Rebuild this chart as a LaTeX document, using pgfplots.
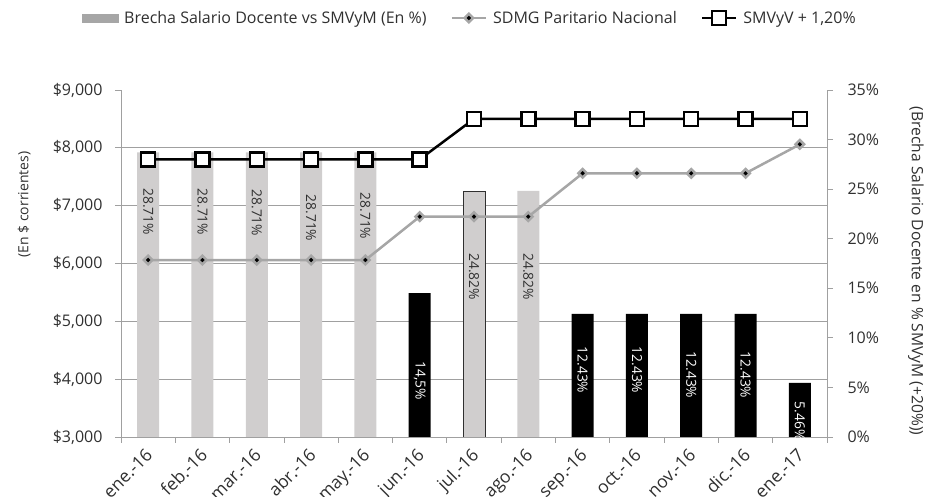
\documentclass[border=0pt]{standalone}
\usepackage{pgfplots}
\pgfplotsset{compat=1.18}
\usepackage{fontspec}
\setmainfont{Open Sans}

\definecolor{barg}{HTML}{D0CECE}
\definecolor{legg}{HTML}{A6A6A6}
\definecolor{lineg}{HTML}{A6A6A6}
\definecolor{gridg}{HTML}{A0A0A0}
\definecolor{txt}{HTML}{303030}

\pgfplotsset{
  base/.style={
    width=706pt, height=347pt, scale only axis,
    at={(121pt,60pt)}, anchor=south west,
    xmin=-0.5, xmax=12.5,
    tick align=outside, major tick length=6pt,
    tick style={gridg, line width=0.8pt},
    axis line style={gridg, line width=0.8pt, -},
    ticklabel style={font=\fontsize{16}{19}\selectfont, text=txt},
  },
  lbl/.style={draw=none, nodes near coords, point meta=explicit symbolic,
    nodes near coords style={anchor=center, rotate=-90, inner sep=0pt,
      font=\fontsize{13.8}{16}\selectfont, text=#1}},
}

\begin{document}
\begin{tikzpicture}
\path[use as bounding box] (0,0) rectangle (926pt,497pt);

% left axis: grid, x labels
\begin{axis}[base,
  ymin=3000, ymax=9000,
  axis x line*=bottom, axis y line*=left,
  xtick={-0.5,0.5,...,12.5}, x tick label as interval,
  xticklabels={ene.-16,feb.-16,mar.-16,abr.-16,may.-16,jun.-16,jul.-16,ago.-16,sep.-16,oct.-16,nov.-16,dic.-16,ene.-17},
  xticklabel style={xshift=-3.6pt, yshift=-4pt, rotate=45, anchor=north east, inner sep=0pt,
    font=\fontsize{17.5}{20}\selectfont},
  ytick={3000,4000,...,8000},
  yticklabels={\$3{,}000,\$4{,}000,\$5{,}000,\$6{,}000,\$7{,}000,\$8{,}000},
  yticklabel style={xshift=-9pt},
  extra y ticks={9000}, extra y tick labels={\$9{,}000},
  extra y tick style={grid=none},
  ymajorgrids, grid style={gridg, line width=0.8pt},
  every axis y label/.style={at={(axis description cs:-0.137,0.67)}, rotate=90, anchor=center,
    font=\fontsize{14}{17}\selectfont, text=txt},
  ylabel={(En \$ corrientes)},
]
\end{axis}

% right axis: bars
\begin{axis}[base,
  ymin=0, ymax=35,
  axis y line*=right, axis x line=none,
  ytick={0,5,...,35},
  yticklabels={0\%,5\%,10\%,15\%,20\%,25\%,30\%,35\%},
  yticklabel style={xshift=11pt},
  every axis y label/.style={at={(axis description cs:1.126,0.478)}, rotate=-90, anchor=center,
    font=\fontsize{15.6}{18}\selectfont, text=txt},
  ylabel={(Brecha Salario Docente en \% SMVyM (+20\%))},
]
\addplot[ybar, bar width=22pt, bar shift=0pt, fill=barg, draw=none]
  coordinates {(0,28.71) (1,28.71) (2,28.71) (3,28.71) (4,28.71) (7,24.82)};
\addplot[ybar, bar width=22pt, bar shift=0pt, fill=barg, draw=txt, line width=0.8pt]
  coordinates {(6,24.82)};
\addplot[ybar, bar width=22pt, bar shift=0pt, fill=black, draw=none]
  coordinates {(5,14.5) (8,12.43) (9,12.43) (10,12.43) (11,12.43) (12,5.46)};
\addplot[lbl=txt] coordinates {
  (0,22.73) [28.71\%] (1,22.70) [28.71\%] (2,22.60) [28.71\%]
  (3,22.09) [28.71\%] (4,22.29) [28.71\%]
  (6,16.17) [24.82\%] (7,16.17) [24.82\%]};
\addplot[lbl=white] coordinates {
  (5,5.65) [14,5\%] (8,6.76) [12.43\%] (9,6.76) [12.43\%]
  (10,6.25) [12.43\%] (11,6.25) [12.43\%] (12,1.6) [5.46\%]};
\end{axis}

% lines on the left scale
\begin{axis}[base,
  ymin=3000, ymax=9000, hide axis,
  legend style={at={(0.494,1.2075)}, anchor=center, draw=none, fill=none,
    font=\fontsize{16}{19}\selectfont, text=txt,
    legend columns=3, column sep=4pt,
    /tikz/every even column/.append style={column sep=22pt}},
  legend image code/.code={\draw[mark repeat=2,mark phase=2,#1]
    plot coordinates {(0pt,0pt) (17pt,0pt) (34pt,0pt)};},
]
\addlegendimage{legend image code/.code={\fill[legg] (0pt,-4pt) rectangle (36pt,4pt);}}
\addlegendentry{Brecha Salario Docente vs SMVyM (En \%)}
\addplot[lineg, line width=2.5pt, mark=square*, mark size=3pt,
  mark options={rotate=45, fill=black, draw=lineg, line width=2.5pt}]
  coordinates {(0,6060) (1,6060) (2,6060) (3,6060) (4,6060) (5,6810) (6,6810)
    (7,6810) (8,7560) (9,7560) (10,7560) (11,7560) (12,8060)};
\addlegendentry{SDMG Paritario Nacional}
\addplot[black, line width=2.5pt, mark=square*, mark size=7pt,
  mark options={fill=white, draw=black, line width=2.5pt}]
  coordinates {(0,7800) (1,7800) (2,7800) (3,7800) (4,7800) (5,7800) (6,8500)
    (7,8500) (8,8500) (9,8500) (10,8500) (11,8500) (12,8500)};
\addlegendentry{SMVyV + 1,20\%}
\end{axis}
\end{tikzpicture}
\end{document}
